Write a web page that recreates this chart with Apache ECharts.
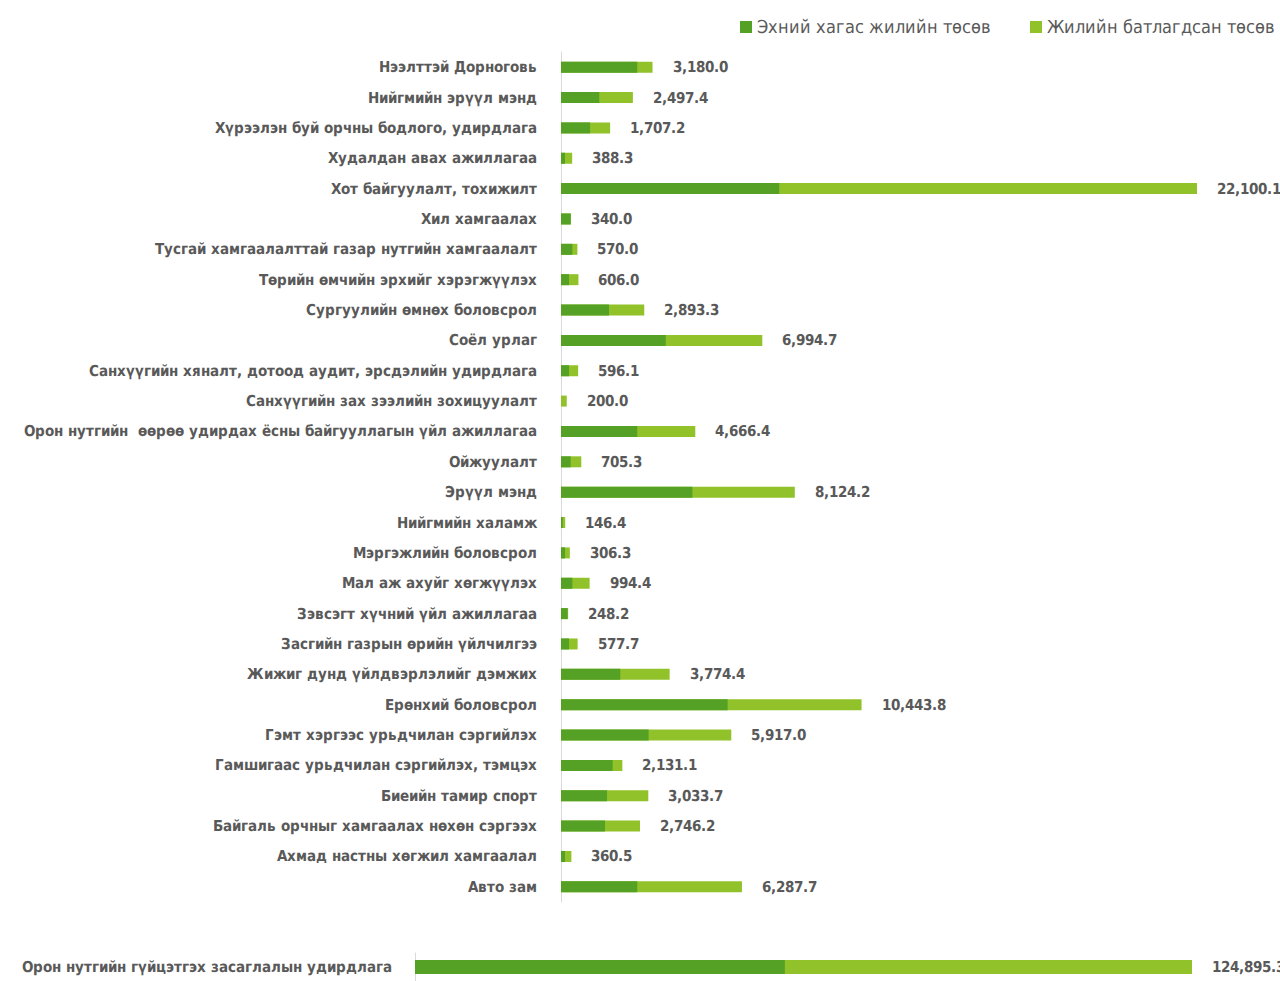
<!DOCTYPE html>
<html>
<head>
<meta charset="utf-8">
<script src="https://cdn.jsdelivr.net/npm/echarts@6/dist/echarts.min.js"></script>
<style>
  @font-face {
    font-family: "CondLabel";
    font-weight: 700;
    src: local("DejaVu Sans Condensed Bold"), local("DejaVuSansCondensed-Bold");
  }
  @font-face {
    font-family: "CondLabel";
    font-weight: 400;
    src: local("DejaVu Sans Condensed"), local("DejaVuSansCondensed");
  }
  html, body { margin: 0; padding: 0; background: #fff; }
  #chart { width: 1280px; height: 981px; }
</style>
</head>
<body>
<div id="chart"></div>
<script>
// Program categories, top to bottom
const categories = [
  "Нээлттэй Дорноговь",
  "Нийгмийн эрүүл мэнд",
  "Хүрээлэн буй орчны бодлого, удирдлага",
  "Худалдан авах ажиллагаа",
  "Хот байгуулалт, тохижилт",
  "Хил хамгаалах",
  "Тусгай хамгаалалттай газар нутгийн хамгаалалт",
  "Төрийн өмчийн эрхийг хэрэгжүүлэх",
  "Сургуулийн өмнөх боловсрол",
  "Соёл урлаг",
  "Санхүүгийн хяналт, дотоод аудит, эрсдэлийн удирдлага",
  "Санхүүгийн зах зээлийн зохицуулалт",
  "Орон нутгийн  өөрөө удирдах ёсны байгууллагын үйл ажиллагаа",
  "Ойжуулалт",
  "Эрүүл мэнд",
  "Нийгмийн халамж",
  "Мэргэжлийн боловсрол",
  "Мал аж ахуйг хөгжүүлэх",
  "Зэвсэгт хүчний үйл ажиллагаа",
  "Засгийн газрын өрийн үйлчилгээ",
  "Жижиг дунд үйлдвэрлэлийг дэмжих",
  "Ерөнхий боловсрол",
  "Гэмт хэргээс урьдчилан сэргийлэх",
  "Гамшигаас урьдчилан сэргийлэх, тэмцэх",
  "Биеийн тамир спорт",
  "Байгаль орчныг хамгаалах нөхөн сэргээх",
  "Ахмад настны хөгжил хамгаалал",
  "Авто зам"
];
// Annual approved budget (light green, labelled)
const annualBudget = [
  3180.0, 2497.4, 1707.2, 388.3, 22100.1, 340.0, 570.0, 606.0, 2893.3, 6994.7,
  596.1, 200.0, 4666.4, 705.3, 8124.2, 146.4, 306.3, 994.4, 248.2, 577.7,
  3774.4, 10443.8, 5917.0, 2131.1, 3033.7, 2746.2, 360.5, 6287.7
];
// First half-year budget (dark green)
const halfYearBudget = [
  2650, 1330, 1010, 140, 7585, 340, 395, 280, 1670, 3640,
  280, 0, 2650, 335, 4565, 60, 140, 395, 230, 280,
  2060, 5790, 3045, 1795, 1600, 1530, 140, 2650
];
// Separate large program shown below on its own scale
const bottomCategory = ["Орон нутгийн гүйцэтгэх засаглалын удирдлага"];
const bottomAnnual = [124895.3];
const bottomHalfYear = [59450];

const seriesNames = ["Эхний хагас жилийн төсөв", "Жилийн батлагдсан төсөв"];
const DARK = "#55a125";
const LIGHT = "#91c22a";
const TEXT = "#595959";
const FONT = '"CondLabel", "DejaVu Sans", sans-serif';
const SIZE = 15.2;

const fmt = v => v.toLocaleString("en-US", { minimumFractionDigits: 1, maximumFractionDigits: 1 });

const valueLabel = {
  show: true, position: "right", distance: 20,
  color: TEXT, fontFamily: FONT, fontWeight: "bold", fontSize: 14.5,
  formatter: p => fmt(p.value)
};

function draw() {
  const chart = echarts.init(document.getElementById("chart"), null, { renderer: "svg" });
  chart.setOption({
    animation: false,
    textStyle: { fontFamily: FONT },
    legend: {
      data: seriesNames,
      left: 735, top: 13, width: 545,
      itemWidth: 12, itemHeight: 12, itemGap: 39, itemStyle: { borderWidth: 0 },
      icon: "rect",
      textStyle: { color: TEXT, fontFamily: FONT, fontSize: 17.5 }
    },
    grid: [
      { left: 561, right: 83, top: 52, height: 850, outerBoundsMode: "none" },
      { left: 415, right: 88, top: 953, height: 28, outerBoundsMode: "none" }
    ],
    xAxis: [
      { type: "value", gridIndex: 0, min: 0, max: "dataMax", show: false },
      { type: "value", gridIndex: 1, min: 0, max: "dataMax", show: false }
    ],
    yAxis: [
      {
        type: "category", gridIndex: 0, data: categories, inverse: true,
        axisLine: { show: true, lineStyle: { color: "#d9d9d9", width: 1 } },
        axisTick: { show: false },
        axisLabel: { color: TEXT, fontFamily: FONT, fontWeight: "bold", fontSize: SIZE, margin: 24 }
      },
      {
        type: "category", gridIndex: 1, data: bottomCategory,
        axisLine: { show: true, lineStyle: { color: "#d9d9d9", width: 1 } },
        axisTick: { show: false },
        axisLabel: { color: TEXT, fontFamily: FONT, fontWeight: "bold", fontSize: SIZE, margin: 23 }
      }
    ],
    series: [
      {
        name: seriesNames[1], type: "bar", xAxisIndex: 0, yAxisIndex: 0,
        data: annualBudget, barWidth: 11, itemStyle: { color: LIGHT },
        label: valueLabel
      },
      {
        name: seriesNames[0], type: "bar", xAxisIndex: 0, yAxisIndex: 0,
        data: halfYearBudget, barWidth: 11, barGap: "-100%", itemStyle: { color: DARK }
      },
      {
        name: seriesNames[1], type: "bar", xAxisIndex: 1, yAxisIndex: 1,
        data: bottomAnnual, barWidth: 14, itemStyle: { color: LIGHT },
        label: valueLabel
      },
      {
        name: seriesNames[0], type: "bar", xAxisIndex: 1, yAxisIndex: 1,
        data: bottomHalfYear, barWidth: 14, barGap: "-100%", itemStyle: { color: DARK }
      }
    ]
  });
}

Promise.all([
  document.fonts.load('700 15px "CondLabel"'),
  document.fonts.load('400 17px "CondLabel"')
]).then(draw, draw);
</script>
</body>
</html>
